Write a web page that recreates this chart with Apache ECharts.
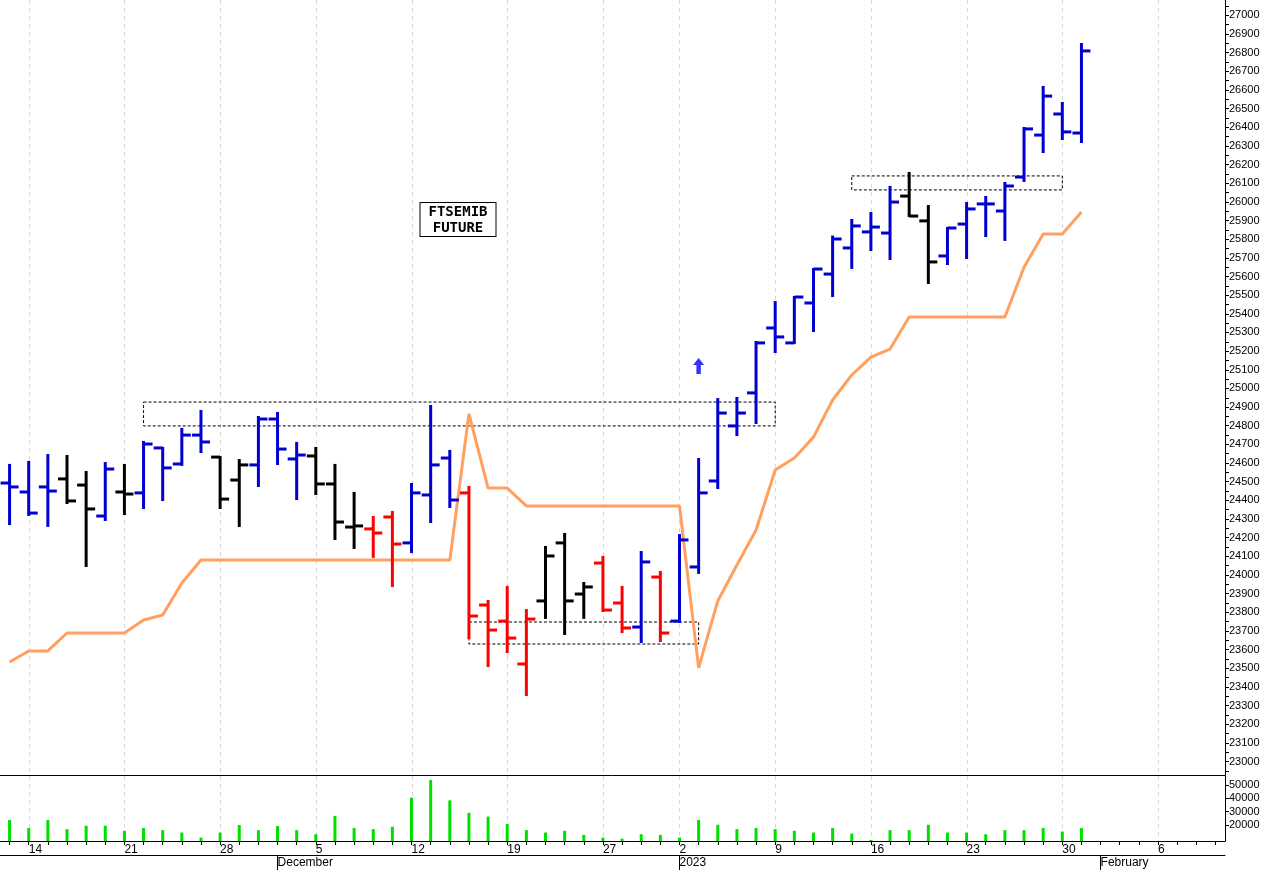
<!DOCTYPE html>
<html>
<head>
<meta charset="utf-8">
<script src="https://cdn.jsdelivr.net/npm/echarts@6/dist/echarts.min.js"></script>
<style>html,body{margin:0;padding:0;background:#fff;}#chart{width:1275px;height:870px;}</style>
</head>
<body>
<div id="chart"></div>
<script>
// trading days (Nov 11 2022 .. Jan 31 2023) plus empty Feb slots
var dates = ['2022-11-11',
 '2022-11-14','2022-11-15','2022-11-16','2022-11-17','2022-11-18',
 '2022-11-21','2022-11-22','2022-11-23','2022-11-24','2022-11-25',
 '2022-11-28','2022-11-29','2022-11-30','2022-12-01','2022-12-02',
 '2022-12-05','2022-12-06','2022-12-07','2022-12-08','2022-12-09',
 '2022-12-12','2022-12-13','2022-12-14','2022-12-15','2022-12-16',
 '2022-12-19','2022-12-20','2022-12-21','2022-12-22','2022-12-23',
 '2022-12-27','2022-12-28','2022-12-29','2022-12-30',
 '2023-01-02','2023-01-03','2023-01-04','2023-01-05','2023-01-06',
 '2023-01-09','2023-01-10','2023-01-11','2023-01-12','2023-01-13',
 '2023-01-16','2023-01-17','2023-01-18','2023-01-19','2023-01-20',
 '2023-01-23','2023-01-24','2023-01-25','2023-01-26','2023-01-27',
 '2023-01-30','2023-01-31',
 '2023-02-01','2023-02-02','2023-02-03','2023-02-06','2023-02-07','2023-02-08','2023-02-09'];
var weekLabels = {'2022-11-14':'14','2022-11-21':'21','2022-11-28':'28','2022-12-05':'5','2022-12-12':'12',
 '2022-12-19':'19','2022-12-27':'27','2023-01-02':'2','2023-01-09':'9','2023-01-16':'16','2023-01-23':'23',
 '2023-01-30':'30','2023-02-06':'6'};
var monthLabels = {'2022-12-01':'December','2023-01-02':'2023','2023-02-01':'February'};

var opens  = [24493,24445,24472,24515,24482,24316,24445,24440,24681,24595,24750,24632,24509,24590,24836,24622,24638,24488,24257,24247,24311,24172,24429,24627,24440,23839,23753,23523,23861,24172,23898,24064,23850,23721,23989,23753,24043,24504,24799,24976,25324,25244,25458,25613,25753,25839,25833,26031,25898,25710,25881,25989,25951,26133,26358,26471,26369];
var highs  = [24590,24606,24643,24638,24552,24600,24590,24713,24681,24783,24879,24632,24616,24847,24868,24708,24681,24590,24440,24311,24338,24488,24906,24665,24472,23861,23936,23812,24150,24220,23957,24097,23936,24123,24016,24214,24622,24943,24949,25249,25463,25490,25640,25814,25903,25940,26080,26155,25978,25860,25994,26026,26101,26396,26616,26530,26846];
var lows   = [24273,24322,24263,24386,24048,24295,24327,24359,24402,24590,24659,24359,24263,24477,24595,24407,24434,24193,24145,24097,23941,24123,24284,24365,23662,23512,23587,23357,23770,23684,23770,23807,23694,23641,23646,23748,24011,24466,24750,24815,25195,25244,25308,25495,25646,25742,25694,25924,25565,25667,25699,25817,25796,26112,26267,26337,26321];
var closes = [24472,24332,24450,24397,24354,24568,24434,24702,24574,24750,24713,24407,24590,24836,24675,24643,24488,24284,24263,24225,24166,24440,24590,24402,23780,23705,23662,23764,24102,23861,23936,23812,23716,24070,23689,24188,24440,24868,24868,25244,25276,25490,25640,25801,25871,25865,25999,25924,25678,25860,25962,25989,26085,26391,26567,26375,26809];
var barColors = 'BBBKKBKBBBBKKBBBKKKRRBBBRRRRKKKRRBRBBBBBBBBBBBBKKBBBBBBBB';
var stopLine = [23534,23593,23593,23689,23689,23689,23689,23759,23786,23957,24080,24080,24080,24080,24080,24080,24080,24080,24080,24080,24080,24080,24080,24080,24863,24466,24466,24370,24370,24370,24370,24370,24370,24370,24370,24370,23502,23861,24054,24241,24563,24627,24739,24938,25072,25168,25211,25383,25383,25383,25383,25383,25383,25650,25828,25828,25946];
var volumes = [23600,17460,23600,16690,19230,19230,15390,17460,15900,14100,10250,14100,19770,15900,18970,15900,12820,26670,17460,16690,18460,40510,53840,38460,29000,26150,20510,15900,14100,15390,12310,10250,9490,12820,12310,10250,23600,20000,16690,17460,16690,15390,14100,17460,13330,8460,15900,15900,20000,14100,14100,12820,15900,15900,17460,14850,17460];
var priceTicks = [];
for (var p = 23000; p <= 27000; p += 100) priceTicks.push(p);
var priceMinor = [];
for (var p = 22950; p <= 27050; p += 50) priceMinor.push(p);
var volTicks = [20000, 30000, 40000, 50000];

var colorMap = {B: '#0000d0', K: '#000000', R: '#ff0000'};
var ohlc = opens.map(function (o, i) { return [i, o, highs[i], lows[i], closes[i]]; });
var mondayIdx = [];
dates.forEach(function (d, i) { if (weekLabels[d]) mondayIdx.push(i); });
function plain(v) { return String(v); }

// dashed vertical week lines, drawn under the bars
function weekLine(params, api) {
	var x = api.coord([api.value(0), 0])[0];
	var cs = params.coordSys;
	return {type: 'line', shape: {x1: Math.round(x) + 0.5, y1: cs.y, x2: Math.round(x) + 0.5, y2: cs.y + cs.height},
		style: {stroke: '#d8d8d8', lineWidth: 1, lineDash: [4, 4]}};
}

var chart = echarts.init(document.getElementById('chart'));
chart.setOption({
	animation: false,
	grid: [
		{left: 0, top: 0, width: 1225, height: 775},
		{left: 0, top: 776, width: 1225, height: 65}
	],
	xAxis: [
		{type: 'category', gridIndex: 0, data: dates, axisLabel: {show: false}, axisTick: {show: false},
			axisLine: {lineStyle: {color: '#000', width: 1}}},
		{type: 'category', gridIndex: 1, data: dates,
			axisLine: {lineStyle: {color: '#000', width: 1}},
			axisTick: {show: true, interval: 0, alignWithLabel: true, length: 4, lineStyle: {color: '#000'}},
			axisLabel: {interval: 0, align: 'left', margin: 3, fontSize: 12, color: '#000', fontFamily: 'Liberation Sans',
				formatter: function (v) { return weekLabels[v] || ''; }}},
		{type: 'category', gridIndex: 1, data: dates, position: 'bottom', offset: 14,
			axisLine: {lineStyle: {color: '#000', width: 1}},
			axisTick: {show: true, alignWithLabel: true, length: 16, lineStyle: {color: '#000'},
				interval: function (i, v) { return !!monthLabels[v]; }},
			axisLabel: {interval: 0, align: 'left', margin: 2, fontSize: 12, color: '#000', fontFamily: 'Liberation Sans',
				formatter: function (v) { return monthLabels[v] || ''; }}}
	],
	yAxis: [
		{type: 'value', gridIndex: 0, position: 'right', min: 22928, max: 27082,
			splitLine: {show: false},
			axisLine: {show: true, lineStyle: {color: '#000'}},
			axisTick: {show: true, length: 4, customValues: priceMinor, lineStyle: {color: '#000'}},
			axisLabel: {customValues: priceTicks, fontSize: 11, color: '#000', margin: 4, fontFamily: 'Liberation Sans', formatter: plain}},
		{type: 'value', gridIndex: 1, position: 'right', min: 7700, max: 56900,
			splitLine: {show: false},
			axisLine: {show: true, lineStyle: {color: '#000'}},
			axisTick: {show: true, length: 4, customValues: volTicks, lineStyle: {color: '#000'}},
			axisLabel: {customValues: volTicks, fontSize: 11, color: '#000', margin: 4, fontFamily: 'Liberation Sans', formatter: plain}}
	],
	series: [
		{type: 'custom', xAxisIndex: 0, yAxisIndex: 0, data: mondayIdx.map(function (i) { return [i]; }), z: 0,
			silent: true, clip: false, renderItem: weekLine},
		{type: 'custom', xAxisIndex: 1, yAxisIndex: 1, data: mondayIdx.map(function (i) { return [i]; }), z: 0,
			silent: true, clip: false, renderItem: weekLine},
		{
			type: 'line', xAxisIndex: 0, yAxisIndex: 0, data: stopLine, symbol: 'none',
			lineStyle: {color: '#ffa060', width: 3}, z: 1
		},
		{
			type: 'custom', xAxisIndex: 0, yAxisIndex: 0, data: ohlc, z: 3,
			renderItem: function (params, api) {
				var i = api.value(0);
				var hi = api.coord([i, api.value(2)]);
				var lo = api.coord([i, api.value(3)]);
				var op = api.coord([i, api.value(1)]);
				var cl = api.coord([i, api.value(4)]);
				var st = {stroke: colorMap[barColors[i]], lineWidth: 3};
				return {type: 'group', children: [
					{type: 'line', shape: {x1: hi[0], y1: hi[1] - 1, x2: lo[0], y2: lo[1] + 1}, style: st},
					{type: 'line', shape: {x1: op[0] - 9, y1: op[1], x2: op[0], y2: op[1]}, style: st},
					{type: 'line', shape: {x1: cl[0], y1: cl[1], x2: cl[0] + 9, y2: cl[1]}, style: st}
				]};
			},
			markArea: {
				silent: true,
				itemStyle: {color: 'rgba(0,0,0,0)', borderColor: '#000', borderWidth: 1, borderType: [3, 2]},
				data: [
					[{xAxis: dates[7], yAxis: 24927}, {xAxis: dates[40], yAxis: 24799}],
					[{xAxis: dates[24], yAxis: 23748}, {xAxis: dates[36], yAxis: 23630}],
					[{xAxis: dates[44], yAxis: 26139}, {xAxis: dates[55], yAxis: 26064}]
				]
			}
		},
		{
			type: 'scatter', xAxisIndex: 0, yAxisIndex: 0, data: [[dates[36], 25120]],
			symbol: 'path://M5,0 L10,6 L7,6 L7,14 L3,14 L3,6 L0,6 Z', symbolSize: [11, 16],
			itemStyle: {color: '#0000ff'}
		},
		{
			type: 'bar', xAxisIndex: 1, yAxisIndex: 1, data: volumes, barWidth: 3, z: 2,
			itemStyle: {color: '#00e000'}
		}
	],
	graphic: [{
		type: 'text', x: 458, y: 203,
		style: {text: 'FTSEMIB\nFUTURE', fontSize: 14, fontWeight: 'bold', fontFamily: 'DejaVu Sans Mono',
			align: 'center', verticalAlign: 'top', fill: '#000', backgroundColor: '#fff', borderColor: '#000', borderWidth: 1,
			padding: [1, 8, 0, 8], lineHeight: 16}
	}]
});
</script>
</body>
</html>
